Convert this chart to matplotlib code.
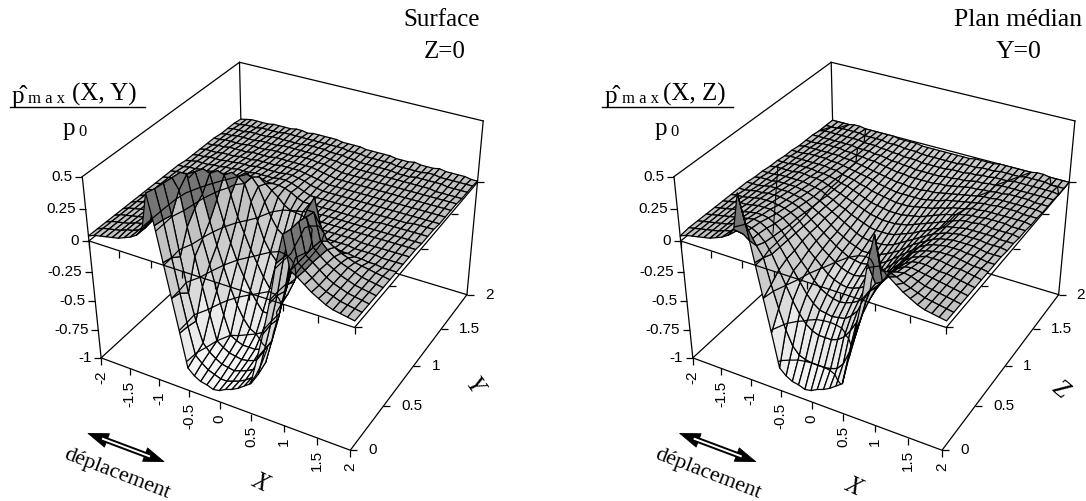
import numpy as np
import matplotlib
matplotlib.use('Agg')
import matplotlib.pyplot as plt
from mpl_toolkits.mplot3d import proj3d

x_vals = [i / 10 for i in range(-20, 21)]
y_vals = [i / 10 for i in range(0, 21)]
x_ticks = [-2, -1.5, -1, -0.5, 0, 0.5, 1, 1.5, 2]
y_ticks = [0, 0.5, 1, 1.5, 2]
z_ticks = [0.5, 0.25, 0, -0.25, -0.5, -0.75, -1]
x_labels = ['-2', '-1.5', '-1', '-0.5', '0', '0.5', '1', '1.5', '2']
y_labels = ['0', '0.5', '1', '1.5', '2']
z_labels = ['0.5', '0.25', '0', '-0.25', '-0.5', '-0.75', '-1']
band_levels = [-0.75, -0.5, -0.25, 0, 0.25]

# pressure, in hundredths, one row per Y, columns X=-2..2
surface_z0 = [
    [4,6,7,8,9,10,12,14,17,23, 52,29,2,-25,-52,-80,-85,-88,-89,-91, -90, -87,-85,-82,-78,-74,-52,-29,-3,29,52, 27,24,20,16,13,10,8,7,6,5],
    [4,6,7,8,9,11,12,14,17,24, 50,28,0,-27,-53,-76,-81,-85,-87,-89, -89, -87,-85,-82,-78,-73,-51,-28,-3,28,50, 27,23,19,15,12,10,8,7,6,5],
    [4,6,7,8,9,11,12,14,18,25, 49,26,-5,-33,-55,-72,-78,-82,-85,-86, -87, -85,-83,-80,-76,-70,-50,-30,-6,26,50, 27,23,19,15,12,10,8,7,6,5],
    [4,6,7,8,9,10,12,14,17,25, 48,40,13,-9,-32,-54,-75,-79,-82,-83, -84, -83,-81,-78,-73,-54,-32,-9,13,37,48, 27,22,18,15,12,10,8,7,6,5],
    [4,6,7,8,9,10,12,14,18,24, 47,47,22,-1,-20,-40,-59,-75,-78,-80, -80, -80,-78,-75,-59,-40,-20,1,23,46,46, 26,21,17,14,12,10,8,7,6,5],
    [4,6,7,8,9,10,12,13,15,19, 38,44,28,8,-10,-26,-42,-55,-65,-72, -75, -72,-65,-55,-41,-24,-6,13,33,50,30, 20,17,14,12,10,9,8,7,6,5],
    [4,6,7,8,9,10,11,12,14,16, 22,41,39,20,3,-12,-26,-37,-47,-55, -62, -62,-58,-50,-40,-28,-14,-2,12,12,10, 9,8,8,7,7,6,6,5,5,5],
    [4,5,6,7,8,9,10,11,12,14, 15,22,36,34,20,4,-8,-20,-30,-40, -48, -47,-42,-35,-26,-16,-6,5,7,7,7, 7,7,6,6,6,6,5,5,5,5],
    [4,5,6,7,8,8,9,10,11,12, 13,15,20,31,29,25,12,-2,-16,-25, -31, -30,-26,-20,-13,-5,5,6,6,6,6, 6,6,5,5,5,5,5,5,5,5],
    [4,5,6,6,7,8,8,9,10,10, 11,12,13,17,27,25,19,8,-3,-11, -15, -13,-9,-5,0,4,5,5,5,5,5, 5,5,5,5,5,5,5,5,5,5],
    [4,5,5,6,6,7,7,8,9,9, 10,10,11,12,15,20,16,12,8,3, 0, 1,2,3,3,4,4,4,4,4,4, 4,4,4,4,4,4,4,4,4,4],
    [4,4,5,5,6,6,7,7,8,8, 9,9,10,10,10,11,11,11,10,8, 5, 3,3,3,3,3,3,3,3,3,3, 3,3,4,4,4,4,4,4,4,4],
    [3,4,5,5,5,6,6,7,7,8, 8,8,9,9,9,9,10,10,9,7, 5, 3,3,3,3,3,3,3,3,3,3, 3,3,3,3,3,3,4,4,4,4],
    [3,4,4,5,5,5,6,6,7,7, 7,8,8,8,8,8,9,9,8,7, 5, 4,3,3,3,3,3,3,3,3,3, 3,3,3,3,3,3,3,3,3,3],
    [3,4,4,4,5,5,5,6,6,6, 7,7,7,7,8,8,8,8,7,6, 5, 4,3,3,3,3,3,3,3,3,3, 3,3,3,3,3,3,3,3,3,3],
    [3,3,4,4,5,5,5,5,6,6, 6,6,7,7,7,7,7,7,7,6, 5, 4,3,3,3,3,3,3,3,3,3, 3,3,3,3,3,3,3,3,3,3],
    [3,3,4,4,4,4,5,5,5,5, 6,6,6,6,6,7,7,7,6,6, 5, 4,3,3,3,3,3,3,3,3,3, 3,3,3,3,3,3,3,3,3,3],
    [2,3,3,4,4,4,4,5,5,5, 5,6,6,6,6,6,6,6,6,5, 5, 4,4,3,3,3,3,3,3,3,3, 3,3,3,3,3,2,2,2,2,2],
    [2,3,3,3,4,4,4,4,5,5, 5,5,5,5,6,6,6,6,5,5, 5, 4,4,3,3,3,3,3,3,2,2, 2,3,3,3,3,3,2,2,2,2],
    [2,2,3,3,3,4,4,4,4,5, 5,5,5,5,5,5,5,5,5,5, 4, 4,4,3,3,3,3,3,2,2,2, 2,2,3,3,2,2,2,2,2,2],
    [1,2,3,3,3,3,4,4,4,4, 5,5,4,5,5,5,5,5,4,4, 4, 4,3,3,3,3,3,2,2,2,3, 2,2,2,3,2,2,2,2,1,1],
]

# same layout for the median plane, one row per Z
median_y0 = [
    [4,6,7,8,9,10,12,14,17,23, 52,29,2,-25,-52,-80,-85,-88,-89,-91, -90, -87,-85,-82,-78,-74,-52,-29,-3,29,52, 27,24,20,16,13,10,8,7,6,5],
    [5,6,7,8,9,10,12,13,15,14, 10,8,0,-20,-38,-54,-66,-72,-74,-75, -75, -75,-74,-72,-66,-54,-38,-20,0,8,11, 20,18,15,13,11,9,8,7,6,5],
    [5,6,7,8,9,10,12,13,14,13, 10,5,-3,-14,-25,-36,-45,-52,-56,-58, -58, -58,-56,-52,-45,-36,-25,-14,-3,5,10, 14,15,14,12,10,9,8,7,6,5],
    [5,6,7,8,9,10,11,12,13,12, 9,4,-3,-11,-19,-27,-35,-41,-45,-46, -47, -46,-45,-41,-35,-27,-19,-11,-3,4,9, 12,13,12,11,10,9,8,7,6,5],
    [5,6,7,8,9,9,10,11,11,10, 7,3,-3,-10,-17,-23,-30,-35,-38,-40, -41, -40,-38,-35,-30,-23,-17,-10,-3,3,7, 10,11,11,10,9,9,8,7,6,5],
    [5,6,7,8,8,9,10,10,10,8, 6,2,-3,-8,-14,-19,-24,-29,-32,-34, -35, -34,-32,-29,-24,-19,-14,-8,-3,2,6, 8,10,10,10,9,8,8,7,6,5],
    [5,6,6,7,8,9,9,9,8,7, 5,2,-3,-7,-12,-17,-21,-25,-28,-30, -31, -30,-28,-25,-21,-17,-12,-7,-3,2,5, 7,8,9,9,9,8,7,6,6,5],
    [5,5,6,7,7,8,8,8,7,6, 4,1,-3,-7,-11,-15,-19,-22,-25,-26, -27, -26,-25,-22,-19,-15,-11,-7,-3,1,4, 6,7,8,8,8,7,7,6,5,5],
    [5,5,5,6,7,7,7,7,6,5, 3,0,-3,-6,-10,-14,-17,-20,-22,-24, -24, -24,-22,-20,-17,-14,-10,-6,-3,0,3, 5,6,7,7,7,7,6,5,5,5],
    [4,5,5,5,6,6,6,6,5,4, 2,0,-3,-6,-9,-12,-15,-18,-20,-21, -21, -21,-20,-18,-15,-12,-9,-6,-3,0,2, 4,5,6,6,6,6,5,5,5,4],
    [4,4,4,5,5,5,5,5,4,3, 2,-1,-3,-6,-8,-11,-13,-15,-17,-18, -18, -18,-17,-15,-13,-11,-8,-6,-3,-1,2, 3,4,5,5,5,5,5,4,4,4],
    [3,4,4,4,4,5,5,4,4,3, 1,-1,-3,-5,-7,-9,-11,-13,-14,-15, -15, -15,-14,-13,-11,-9,-7,-5,-3,-1,1, 3,4,4,5,5,4,4,4,4,3],
    [3,3,3,4,4,4,4,3,3,2, 1,-1,-2,-4,-6,-8,-10,-11,-12,-13, -13, -13,-12,-11,-10,-8,-6,-4,-2,-1,1, 2,3,3,4,4,4,4,3,3,3],
    [2,3,3,3,3,3,3,3,2,2, 0,-1,-2,-4,-5,-7,-8,-9,-10,-11, -11, -11,-10,-9,-8,-7,-5,-4,-2,-1,0, 2,2,3,3,3,3,3,3,3,2],
    [2,2,2,3,3,3,3,2,2,1, 0,-1,-2,-3,-4,-6,-7,-8,-9,-9, -9, -9,-9,-8,-7,-6,-4,-3,-2,-1,0, 1,2,2,3,3,3,3,2,2,2],
    [1,2,2,2,2,2,2,2,1,1, 0,-1,-2,-3,-4,-5,-6,-7,-7,-8, -8, -8,-7,-7,-6,-5,-4,-3,-2,-1,0, 1,1,2,2,2,2,2,2,2,1],
    [1,1,1,2,2,2,2,1,1,0, 0,-1,-1,-2,-3,-4,-5,-5,-6,-6, -6, -6,-6,-5,-5,-4,-3,-2,-1,-1,0, 0,1,1,2,2,2,2,1,1,1],
    [1,1,1,1,1,1,1,1,0,0, 0,-1,-1,-2,-3,-3,-4,-4,-5,-5, -5, -5,-5,-4,-4,-3,-3,-2,-1,-1,0, 0,1,1,1,1,1,1,1,1,1],
    [0,1,1,1,1,1,1,1,0,0, 0,-1,-1,-2,-2,-3,-3,-3,-4,-4, -4, -4,-4,-3,-3,-3,-2,-2,-1,-1,0, 0,0,1,1,1,1,1,1,1,0],
    [0,0,0,1,1,1,1,0,0,0, 0,-1,-1,-1,-2,-2,-2,-3,-3,-3, -3, -3,-3,-3,-2,-2,-2,-1,-1,-1,0, 0,0,0,1,1,1,1,0,0,0],
    [0,0,0,0,1,1,0,0,0,0, 0,0,-1,-1,-1,-1,-2,-2,-2,-2, -2, -2,-2,-2,-2,-1,-1,-1,-1,0,0, 0,0,0,0,1,1,0,0,0,0],
]

plt.rcParams['font.family'] = ['Liberation Sans', 'DejaVu Sans']
SERIF = ['Liberation Serif', 'DejaVu Serif']
W, H = 1086, 501
fig = plt.figure(figsize=(W / 100, H / 100), dpi=100)


def panel_colors(z):
    # Excel style value bands, one grey per band
    cell = (z[:-1, :-1] + z[1:, :-1] + z[:-1, 1:] + z[1:, 1:]) / 4
    band_grey = np.array([0.96, 0.92, 0.86, 0.80, 0.76, 0.46])
    grey = band_grey[np.digitize(cell, [-0.75, -0.5, -0.25, 0, 0.22])]
    return np.dstack([grey, grey, grey])


def tick_text(ax, x, y, z, text, dx, dy, **kw):
    px, py, _ = proj3d.proj_transform(x, y, z, ax.get_proj())
    ax.annotate(text, xy=(px, py), xytext=(dx, dy), textcoords='offset points', fontsize=11, **kw)


def draw_chart(offset, table):
    side = 437.0
    pos = [(284.5 + offset - side / 2) / W, (H - 246.4 - side / 2) / H, side / W, side / H]
    ax = fig.add_axes(pos, projection='3d', computed_zorder=False)
    ax.set_xlim(-2, 2)
    ax.set_ylim(0, 2)
    ax.set_zlim(-1, 0.5)
    ax.view_init(elev=33.05, azim=-61.05)
    ax.set_proj_type('persp', focal_length=0.534)
    ax.set_box_aspect((1.001, 1, 0.752))
    ax.set_axis_off()

    xx, yy = np.meshgrid(x_vals, y_vals)
    zz = np.array(table) / 100
    ax.plot_surface(xx, yy, zz, rstride=1, cstride=1, facecolors=panel_colors(zz), shade=False,
                    edgecolor='black', linewidth=0.9, antialiased=True, zorder=2)
    ax.contour(xx, yy, zz, levels=band_levels, colors='black', linewidths=0.9,
               negative_linestyles='solid', zorder=2.5)

    line = dict(color='black', lw=0.9)
    # behind the surface
    ax.plot([-2, -2, 2], [0, 2, 2], [0.5, 0.5, 0.5], zorder=1, **line)
    ax.plot([-2, -2], [2, 2], [0.5, -1], zorder=1, **line)
    ax.plot([2, 2], [2, 2], [0.5, -1], zorder=1, **line)
    ax.plot([-2, -2, 2], [0, 2, 2], [-1, -1, -1], zorder=1, **line)
    ax.plot([-2, -2, 2], [0, 2, 2], [0, 0, 0], zorder=1, **line)
    # in front
    ax.plot([-2, -2], [0, 0], [-1, 0.5], zorder=3, **line)
    ax.plot([-2, 2, 2], [0, 0, 2], [-1, -1, -1], zorder=3, **line)
    ax.plot([-2, 2, 2], [0, 0, 2], [0, 0, 0], zorder=3, **line)

    tick = dict(ls='none', color='black', ms=5, mew=0.9, zorder=3)
    for zlev in (-1, 0):
        ax.plot(x_ticks, [0] * len(x_ticks), [zlev] * len(x_ticks), marker=3, **tick)
        ax.plot([2] * len(y_ticks), y_ticks, [zlev] * len(y_ticks), marker=1, **tick)
    ax.plot([-2] * len(z_ticks), [0] * len(z_ticks), z_ticks, marker=0, **tick)

    for v, s in zip(x_ticks, x_labels):
        tick_text(ax, v, 0, -1, s, 0, -9, rotation=90, ha='center', va='top')
    for v, s in zip(y_ticks, y_labels):
        tick_text(ax, 2, v, -1, s, 13, 0, ha='left', va='center')
    for v, s in zip(z_ticks, z_labels):
        tick_text(ax, -2, 0, v, s, -7, 0, ha='right', va='center')
    return ax


draw_chart(0, surface_z0)
draw_chart(591.7, median_y0)

# overlay in picture pixels for titles, fraction and arrow
ov = fig.add_axes([0, 0, 1, 1], zorder=10)
ov.set_xlim(0, W)
ov.set_ylim(H, 0)
ov.axis('off')


def serif(x, y, s, size, ha='left', **kw):
    ov.text(x, y, s, fontsize=size, family=SERIF, ha=ha, va='baseline', **kw)


serif(442, 26, 'Surface', 18, ha='center')
serif(445, 58, 'Z=0', 18, ha='center')
serif(1018, 26, 'Plan médian', 18.5, ha='center')
serif(1019, 58, 'Y=0', 18.5, ha='center')

fractions = [(12, 28, 72, 10, 145, 63, 78, '(X, Y)'), (605, 622, 663, 602, 733, 655, 670, '(X, Z)')]
for xp, xm, xa, x0, x1, xb, xs, args in fractions:
    serif(xp, 103, 'p\u0302', 18)
    serif(xm, 103, 'm a x', 12)
    serif(xa, 101, args, 18)
    ov.plot([x0, x1], [107, 107], color='black', lw=1.0)
    serif(xb, 135, 'p', 18)
    serif(xs, 136, '0', 12)

# stray line in the second chart
ov.plot([778, 773], [165, 233], color='black', lw=0.8)

serif(260, 491, 'X', 18, ha='center', style='italic', rotation=-25)
serif(853, 495, 'X', 18, ha='center', style='italic', rotation=-25)
serif(473, 393, 'Y', 18, ha='center', style='italic', rotation=-55)
serif(1060, 398, 'Z', 18, ha='center', style='italic', rotation=-40)

for dx in (0, 591.7):
    serif(115 + dx, 478, 'déplacement', 16, ha='center', rotation=-21, rotation_mode='anchor')
    ov.plot([102 + dx, 150 + dx], [438.5, 456.5], color='black', lw=4.2, solid_capstyle='butt')
    ov.plot([102 + dx, 150 + dx], [438.5, 456.5], color='white', lw=1.4, solid_capstyle='butt', zorder=5)
    ov.annotate('', xy=(165 + dx, 462), xytext=(87 + dx, 433),
                arrowprops=dict(arrowstyle='<|-|>,head_length=0.9,head_width=0.32', mutation_scale=16,
                                color='black', lw=0.6, shrinkA=0, shrinkB=0))

fig.savefig('out.png', dpi=100)
